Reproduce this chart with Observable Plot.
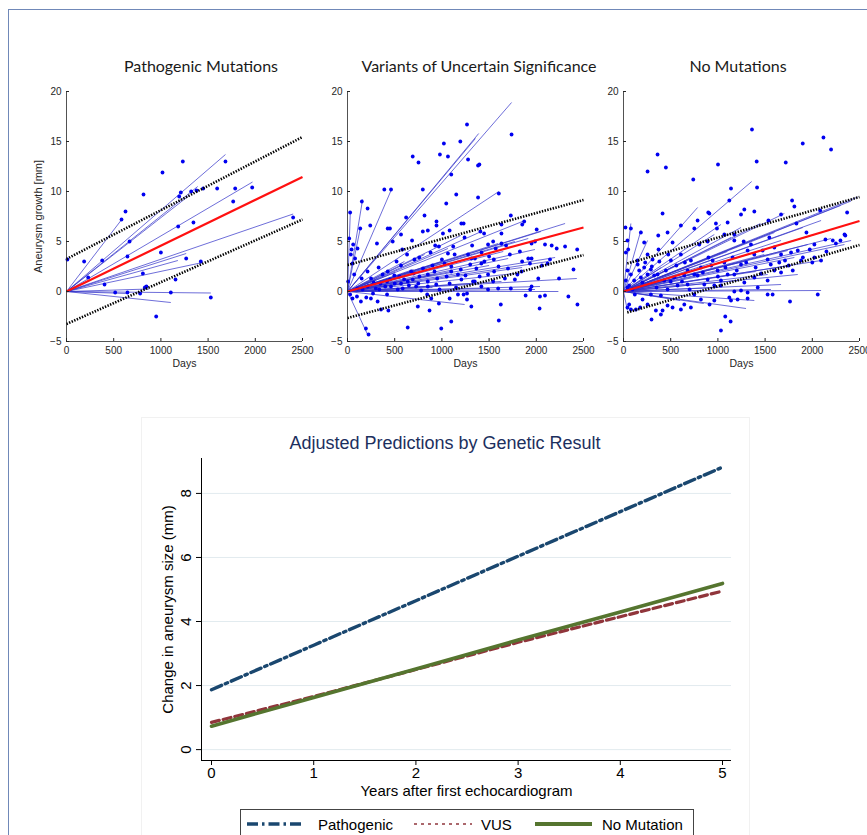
<!DOCTYPE html>
<html><head><meta charset="utf-8">
<script src="https://cdn.jsdelivr.net/npm/d3@7"></script>
<script src="https://cdn.jsdelivr.net/npm/@observablehq/plot@0.6"></script>
<style>
body{margin:0;background:#fff;width:867px;height:835px;overflow:hidden;position:relative;font-family:"Liberation Sans",Arial,sans-serif;}
.abs{position:absolute;}
.abs svg{max-width:none !important;}
.ptitle{position:absolute;font-family:Lato,"Open Sans",sans-serif;font-size:16px;color:#1a1a1a;white-space:nowrap;transform:translateX(-50%);}
</style></head><body>
<div class="abs" style="left:8px;top:9px;width:900px;height:900px;border-left:1.5px solid #7088b8;border-top:1.5px solid #7088b8;"></div>
<div class="abs" style="left:141px;top:417px;width:607px;height:500px;border:1px solid #f1f1f1;"></div>
<div id="root"></div>
<script>
// ---------- Top panels: data ----------
const dayTicks = [0, 500, 1000, 1500, 2000, 2500];
const growthTicks = [-5, 0, 5, 10, 15, 20];
const panelTitles = ["Pathogenic Mutations", "Variants of Uncertain Significance", "No Mutations"];

const pathPoints = [[10,3.2],[187,3.0],[230,1.4],[378,3.1],[403,0.7],[583,7.2],[625,8.0],[646,3.5],[668,5.0],[516,-0.1],[646,-0.1],[780,-0.2],[809,1.8],[816,9.7],[830,0.4],[847,0.5],[950,-2.5],[1000,3.9],[1017,11.9],[1105,-0.1],[1155,1.2],[1183,6.5],[1194,9.5],[1211,9.9],[1232,13.0],[1268,3.3],[1321,10.0],[1345,6.9],[1377,10.1],[1423,3.0],[1448,10.3],[1529,-0.6],[1596,10.3],[1684,13.0],[1766,9.0],[1787,10.3],[1967,10.4],[2401,7.4]];
const pathLines = [[593,7.3],[1684,13.7],[1390,10.5],[1300,9.6],[1971,10.95],[2401,7.75],[1268,3.8],[1441,2.9],[1529,-0.15],[1105,-1.1],[876,0.25],[640,-0.2],[1180,3.1]];
const pathFitMean = [0, 11.45];
const pathFitUpper = [3.25, 15.45];
const pathFitLower = [-3.25, 7.2];

const vusPoints = [[1266,16.7],[1738,15.7],[1021,14.8],[1195,15.0],[979,13.7],[1064,13.5],[691,13.5],[752,12.9],[1277,13.2],[1383,12.6],[1397,12.7],[1099,11.7],[390,10.2],[461,10.2],[798,10.2],[1603,9.8],[1152,9.7],[1383,9.4],[1046,8.8],[152,9.0],[213,8.3],[28,7.9],[816,7.6],[621,7.4],[1730,7.6],[1206,6.8],[1230,6.8],[943,7.0],[943,6.6],[1011,5.8],[1082,6.1],[851,6.1],[798,6.0],[241,6.6],[135,6.3],[426,6.3],[450,6.3],[567,5.7],[312,4.8],[479,5.0],[684,5.1],[929,4.6],[968,4.5],[1408,6.0],[1447,5.8],[1631,5.8],[1872,7.0],[1851,6.7],[2004,6.2],[2092,4.7],[2163,4.6],[2216,4.3],[2305,4.5],[2433,4.2],[2394,2.2],[2340,-0.5],[2241,1.3],[2039,-0.5],[2092,-0.4],[2035,-1.7],[2436,-1.3],[1603,-2.9],[1624,-1.3],[1950,0.5],[1936,0.2],[1887,-0.4],[1730,0.3],[1773,1.2],[1844,2.0],[1933,2.8],[1915,3.3],[1826,4.0],[1720,3.7],[1631,4.8],[1543,5.0],[1500,3.5],[1553,2.0],[1489,1.7],[1418,0.5],[1348,1.0],[1266,-0.2],[1266,-0.8],[1230,-0.3],[1170,1.7],[1099,2.0],[1028,2.8],[1064,3.8],[1082,0.8],[1135,3.7],[1277,3.7],[1330,1.0],[1312,-1.5],[1082,-0.7],[993,-3.7],[1099,-3.0],[968,-1.2],[869,-1.9],[745,-1.5],[638,-3.6],[940,0.7],[922,2.0],[851,1.7],[762,1.5],[709,3.2],[631,3.7],[567,2.6],[496,1.6],[426,2.0],[419,1.0],[419,-0.3],[433,-1.9],[355,-1.8],[319,-1.0],[248,-0.7],[199,-0.6],[277,0.9],[213,0.5],[160,0.2],[106,0.3],[71,1.7],[53,2.8],[35,3.7],[43,4.2],[60,4.7],[18,5.3],[80,3.3],[106,4.3],[213,2.0],[195,-3.7],[223,-4.3],[7,1.0],[28,-0.3],[53,-0.7],[142,-1.0],[532,0.2],[585,0.3],[638,1.0],[691,1.2],[780,0.1],[844,-0.3],[887,-0.7],[567,0.8],[461,0.5],[372,1.7],[337,0.2],[1489,0.2],[1596,0.3],[1543,1.0],[1667,1.3],[1418,2.8],[1365,2.3],[1206,1.2],[1170,-0.3],[975,0.2],[851,0.5],[674,2.0],[727,0.5],[1489,4.7],[1312,3.3],[1950,4.8],[1986,5.0],[2145,3.2],[2120,2.8],[2060,2.6],[1631,6.7],[1950,3.3],[2021,1.3],[300,0.3],[350,0.8],[400,0.5],[450,1.2],[500,0.8],[550,1.5],[600,1.2],[650,0.6],[700,1.8],[750,0.8],[800,2.3],[850,1.0],[900,2.6],[950,1.3],[1000,3.2],[1050,1.5],[1100,2.5],[1150,0.4],[1200,2.2],[1250,1.6],[1300,2.7],[1350,3.3],[1400,1.5],[1450,3.0],[1550,3.2],[1600,2.5],[1700,2.3],[1800,1.7],[1850,3.0],[250,1.3],[150,1.3],[100,-0.5],[270,-0.2],[330,2.4],[520,3.0],[580,4.2],[760,3.4],[880,3.9],[1120,4.5],[1240,5.4],[1320,4.6],[1420,3.9],[1570,4.3],[1680,4.6]];
const vusLines = [[1738,18.9],[1390,15.8],[1355,15.3],[1603,10.0],[461,10.1],[160,9.2],[135,6.3],[30,8.0],[2305,6.8],[1879,7.1],[2429,1.3],[2234,0.0],[2039,0.5],[1241,-1.3],[213,-4.3],[1915,5.3],[1986,4.2],[2128,3.0],[1773,1.8],[1631,1.0],[1489,0.3],[1702,3.3],[1348,3.5],[993,3.0],[1064,4.3],[816,3.7],[603,3.0],[922,1.7],[745,1.0],[1596,4.8],[1418,6.0],[1773,5.0],[2199,3.4],[1986,0.2],[1200,5.6],[1500,2.6],[1850,2.4],[1100,2.0],[700,2.2],[500,1.9],[300,1.2],[1300,0.8],[900,0.4],[2050,6.0],[1650,4.0]];
const vusFitMean = [0, 6.4];
const vusFitUpper = [2.65, 9.15];
const vusFitLower = [-2.65, 3.65];

const noPoints = [[1361,16.2],[2118,15.4],[1899,14.8],[2199,14.2],[361,13.7],[1411,13.0],[1719,12.9],[449,12.4],[255,12.0],[1001,12.7],[739,11.2],[1415,10.4],[1139,10.3],[1121,9.1],[1786,9.1],[1810,8.5],[414,7.8],[898,7.9],[910,7.8],[1280,8.2],[1386,8.0],[1245,7.7],[1669,7.7],[2083,8.1],[2369,7.9],[1832,6.8],[1535,7.1],[1103,6.9],[979,6.8],[990,6.3],[785,7.1],[750,6.3],[608,6.6],[467,5.9],[1938,5.9],[2341,5.7],[2139,5.2],[2217,5.1],[2298,5.1],[1545,5.4],[1350,4.7],[1273,5.0],[1174,5.1],[1068,5.7],[1174,5.7],[891,5.0],[803,4.7],[520,4.9],[368,5.6],[474,3.7],[184,5.9],[219,4.9],[78,6.3],[21,6.4],[25,3.9],[42,5.1],[50,4.2],[148,3.1],[255,3.7],[308,3.2],[371,4.2],[449,2.1],[502,3.1],[608,3.7],[714,3.1],[679,2.1],[750,1.7],[820,2.4],[944,3.1],[997,2.1],[1068,2.9],[1156,3.4],[1245,2.7],[1315,4.1],[1386,3.7],[1474,4.1],[1527,3.2],[1598,4.4],[1669,3.7],[1711,3.1],[1775,3.9],[1846,4.1],[1881,3.1],[1973,4.2],[2022,4.7],[2093,3.1],[2022,3.4],[1669,1.9],[1793,2.1],[1598,2.1],[1527,1.1],[1422,0.4],[1386,1.4],[1280,0.9],[1315,-0.1],[1245,0.1],[1174,0.0],[1121,-0.6],[1209,-0.8],[1139,-0.9],[1315,-0.7],[1527,-0.3],[1580,-0.3],[2058,-0.3],[1764,-1.0],[1078,-2.5],[1135,-3.0],[1032,-3.9],[962,-0.9],[912,-1.3],[820,-0.8],[750,-0.3],[714,-1.6],[644,-1.3],[608,-1.8],[520,-1.6],[467,-1.4],[414,-1.9],[396,-2.3],[297,-2.8],[343,-1.9],[255,-1.3],[177,-1.6],[131,-1.8],[78,-1.8],[42,-1.6],[60,-1.3],[202,-0.8],[290,-0.3],[396,-0.4],[467,0.2],[573,0.6],[679,0.7],[856,0.7],[962,0.6],[431,1.1],[325,1.6],[255,1.7],[184,1.4],[113,1.1],[78,1.7],[42,2.1],[25,1.1],[42,0.4],[95,0.2],[166,2.1],[219,2.4],[290,2.2],[361,1.7],[537,1.4],[644,1.6],[785,1.6],[891,1.2],[1032,1.1],[1103,1.7],[1174,1.7],[1032,0.6],[150,2.7],[230,2.9],[300,2.5],[380,3.0],[560,2.6],[620,1.0],[700,0.2],[840,1.9],[930,2.6],[1000,1.5],[1080,2.4],[1200,2.1],[1300,2.9],[1400,2.4],[1460,1.8],[1560,2.7],[1650,2.9],[1750,2.6],[1900,3.4],[2000,2.9],[2150,4.0],[2250,4.8],[2350,5.6],[60,0.6],[120,-0.3],[200,0.9],[350,0.4],[500,1.0],[650,2.9],[900,3.4]];
const noLines = [[1358,11.0],[1704,7.8],[2482,9.45],[2411,9.05],[2300,8.6],[2093,7.1],[2411,5.1],[2341,4.7],[2093,3.1],[2093,0.1],[1298,-1.7],[1562,0.2],[1527,1.7],[1209,1.1],[1032,6.7],[962,5.7],[785,8.4],[184,6.1],[78,6.8],[255,5.1],[42,-1.9],[1740,4.1],[1810,3.4],[1669,5.1],[1492,3.7],[1315,3.1],[1139,5.4],[1245,6.4],[2022,5.7],[1952,4.7],[1846,1.7],[1669,0.7],[1386,-0.9],[1900,6.4],[1600,5.9],[1450,6.8],[1100,4.0],[900,2.6],[700,3.3],[500,1.8],[400,2.4],[1000,0.4],[850,-1.2],[600,-0.9],[2200,5.3],[1760,2.6],[1400,2.0]];
const noFitMean = [0, 7.05];
const noFitUpper = [2.8, 9.45];
const noFitLower = [-2.1, 4.65];
const noFitStart = 40;

const panels = [
  {title: panelTitles[0], points: pathPoints, lines: pathLines, mean: pathFitMean, up: pathFitUpper, lo: pathFitLower, start: 0, plotLeft: 65.7, titleX: 201, ylabel: true},
  {title: panelTitles[1], points: vusPoints, lines: vusLines, mean: vusFitMean, up: vusFitUpper, lo: vusFitLower, start: 0, plotLeft: 346.7, titleX: 479, ylabel: false},
  {title: panelTitles[2], points: noPoints, lines: noLines, mean: noFitMean, up: noFitUpper, lo: noFitLower, start: noFitStart, plotLeft: 622.7, titleX: 738, ylabel: false}
];

const root = document.getElementById("root");
const axisColor = "#262626";

for (const p of panels) {
  const t = document.createElement("div");
  t.className = "ptitle";
  t.style.left = p.titleX + "px";
  t.style.top = "56px";
  t.textContent = p.title;
  root.appendChild(t);

  const mL = 66, mR = 30, mT = 10, mB = 40;
  const W = mL + 236 + mR;
  const fit = (arr, x0) => [{x1: x0, y1: arr[0], x2: 2500, y2: arr[1]}];
  const chart = Plot.plot({
    width: W, height: mT + 250 + mB,
    marginLeft: mL, marginRight: mR, marginTop: mT, marginBottom: mB,
    x: {domain: [0, 2500]},
    y: {domain: [-5, 20]},
    style: {fontFamily: "'Liberation Sans', Arial, sans-serif", fontSize: "10px", color: axisColor, overflow: "visible", background: "transparent", maxWidth: "none"},
    marks: [
      Plot.link(p.lines, {x1: () => 0, y1: () => 0, x2: d => d[0], y2: d => d[1], stroke: "#2f2fc8", strokeWidth: 0.7}),
      Plot.dot(p.points, {x: d => d[0], y: d => d[1], r: 1.9, fill: "#0000f0", stroke: "none"}),
      Plot.link(fit(p.mean, 0), {x1: "x1", y1: "y1", x2: "x2", y2: "y2", stroke: "#ff1010", strokeWidth: 2.2}),
      Plot.link(fit(p.up, p.start), {x1: "x1", y1: "y1", x2: "x2", y2: "y2", stroke: "#000", strokeWidth: 2.6, strokeDasharray: "1.4,1.4"}),
      Plot.link(fit(p.lo, p.start), {x1: "x1", y1: "y1", x2: "x2", y2: "y2", stroke: "#000", strokeWidth: 2.6, strokeDasharray: "1.4,1.4"}),
      Plot.ruleX([0], {stroke: axisColor, strokeWidth: 0.8}),
      Plot.ruleY([-5], {stroke: axisColor, strokeWidth: 0.8}),
      Plot.axisX({ticks: dayTicks, tickFormat: d3.format("d"), tickSize: 3, dy: -3, tickPadding: 5, label: null, stroke: axisColor}),
      Plot.axisY({ticks: growthTicks, tickFormat: d3.format("d"), tickSize: 3, dx: 3, tickPadding: 5, label: null, stroke: axisColor}),
      Plot.text(["Days"], {frameAnchor: "bottom", dy: 18, lineAnchor: "top", fontSize: 10.5, fill: axisColor}),
      ...(p.ylabel ? [Plot.text(["Aneurysm growth [mm]"], {frameAnchor: "left", dx: -28, rotate: -90, textAnchor: "middle", fontSize: 11, fill: axisColor})] : [])
    ]
  });
  const d = document.createElement("div");
  d.className = "abs";
  d.style.left = (p.plotLeft - mL) + "px";
  d.style.top = (90.7 - mT) + "px";
  d.style.width = W + "px";
  d.appendChild(chart);
  root.appendChild(d);
}

// ---------- Bottom chart: data ----------
const years = [0, 1, 2, 3, 4, 5];
const yTicks = [0, 2, 4, 6, 8];
const seriesNames = ["Pathogenic", "VUS", "No Mutation"];
const pathogenic = [1.87, 3.26, 4.65, 6.04, 7.43, 8.82];
const vus = [0.85, 1.66, 2.50, 3.35, 4.15, 4.95];
const noMutation = [0.73, 1.63, 2.52, 3.42, 4.30, 5.19];

const sColors = ["#1a476f", "#90353b", "#55752f"];
const sDash = ["11,4,2.5,4", "8,4", null];
const sWidth = [3.4, 3.2, 3.6];

const rows = [];
[pathogenic, vus, noMutation].forEach((vals, i) => years.forEach((yr, j) => rows.push({s: seriesNames[i], year: yr, v: vals[j]})));

const title = document.createElement("div");
title.className = "abs";
title.style.cssText = "left:445px;top:433px;transform:translateX(-50%);white-space:nowrap;font-family:'Liberation Sans',Arial,sans-serif;font-size:18px;color:#1c2f5e;";
title.textContent = "Adjusted Predictions by Genetic Result";
root.appendChild(title);

const bChart = Plot.plot({
  width: 620, height: 380,
  marginLeft: 71, marginRight: 19, marginTop: 38, marginBottom: 40,
  x: {domain: [-0.098, 5.088]},
  y: {domain: [-0.34, 9.09]},
  style: {fontFamily: "'Liberation Sans', Arial, sans-serif", fontSize: "15px", color: "#000", overflow: "visible", background: "transparent", maxWidth: "none"},
  marks: [
    Plot.ruleY(yTicks, {stroke: "#e2ebef", strokeWidth: 1}),
    ...seriesNames.map((name, i) => Plot.line(rows.filter(r => r.s === name), {x: "year", y: "v", stroke: sColors[i], strokeWidth: sWidth[i], strokeDasharray: sDash[i] || undefined})),
    Plot.ruleX([-0.098], {stroke: "#000", strokeWidth: 1}),
    Plot.ruleY([-0.34], {stroke: "#000", strokeWidth: 1}),
    Plot.axisX({ticks: years, tickFormat: d3.format("d"), tickSize: 5, tickPadding: 2, label: null, stroke: "#000"}),
    Plot.axisY({ticks: yTicks, tickFormat: d3.format("d"), tickSize: 5, tickPadding: 6, tickRotate: -90, label: null, stroke: "#000"}),
    Plot.text(["Years after first echocardiogram"], {frameAnchor: "bottom", dy: 35, fontSize: 15, fill: "#000"}),
    Plot.text(["Change in aneurysm size (mm)"], {frameAnchor: "left", dx: -33.5, rotate: -90, textAnchor: "middle", fontSize: 15, fill: "#000"})
  ]
});
const bd = document.createElement("div");
bd.className = "abs";
bd.style.left = "130px";
bd.style.top = "420px";
bd.style.width = "620px";
bd.appendChild(bChart);
root.appendChild(bd);

// ---------- Legend ----------
const legend = d3.select(root).append("div").attr("class", "abs")
  .style("left", "240px").style("top", "809px").style("width", "452px").style("height", "40px")
  .style("border", "1.3px solid #444").style("background", "#fff");
const lsvg = legend.append("svg").attr("width", 452).attr("height", 40).style("display", "block");
const legendItems = [
  {x0: 6, x1: 63, tx: 77},
  {x0: 173, x1: 231, tx: 240},
  {x0: 294, x1: 351, tx: 361}
];
seriesNames.forEach((name, i) => {
  const it = legendItems[i];
  lsvg.append("line").attr("x1", it.x0).attr("x2", it.x1).attr("y1", 14).attr("y2", 14)
    .attr("stroke", sColors[i]).attr("stroke-width", i === 1 ? 2.2 : (i === 2 ? 4 : 3.4))
    .attr("stroke-dasharray", i === 0 ? "11,4,2.5,4" : (i === 1 ? "3,4" : null))
    .attr("opacity", i === 1 ? 0.75 : 1);
  lsvg.append("text").attr("x", it.tx).attr("y", 20).attr("font-family", "'Liberation Sans', Arial, sans-serif")
    .attr("font-size", 15).attr("fill", "#000").text(name);
});
</script>
</body></html>
